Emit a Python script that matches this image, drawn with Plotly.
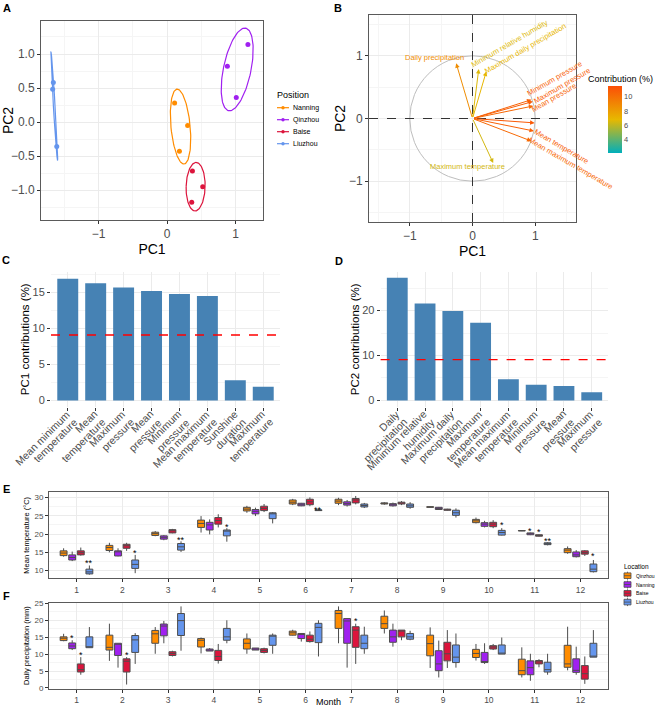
import numpy as np
import plotly.graph_objects as go
from plotly.colors import sample_colorscale

W, H = 655, 709
FONT = "Liberation Sans, Arial, sans-serif"

########## DATA ##########
# A - PCA scores of the three sampling years per site
a_site = ['Nanning'] * 3 + ['Qinzhou'] * 3 + ['Baise'] * 3 + ['Liuzhou'] * 3
a_pc1 = [0.11, 0.30, 0.18, 0.88, 1.18, 1.01, 0.37, 0.52, 0.36, -1.66, -1.67, -1.61]
a_pc2 = [0.28, -0.05, -0.43, 0.82, 1.14, 0.36, -0.72, -0.95, -1.18, 0.58, 0.48, -0.36]
a_sites = ['Nanning', 'Qinzhou', 'Baise', 'Liuzhou']

# B - variable loadings + contribution (%)
b_vars = ['Daily precipitation', 'Minimum relative humidity', 'Maximum daily precipitation',
          'Minimum pressure', 'Maximum pressure', 'Mean pressure',
          'Mean minimum temperature', 'Mean temperature', 'Mean maximum temperature',
          'Maximum temperature']
b_pc1 = [-0.26, 0.10, 0.22, 0.94, 0.96, 0.97, 0.99, 0.98, 0.94, 0.33]
b_pc2 = [0.88, 0.79, 0.75, 0.30, 0.27, 0.20, -0.07, -0.20, -0.36, -0.71]
b_contrib = [8.7, 6.6, 6.9, 10.6, 10.8, 10.4, 11.0, 10.7, 10.3, 6.4]

# C / D - contributions to PC1 and PC2 (label = two lines)
c_labels = [('Mean minimum', 'temperature'), ('Mean', 'temperature'), ('Maximum', 'pressure'),
            ('Mean', 'pressure'), ('Minimum', 'pressure'), ('Mean maximum', 'temperature'),
            ('Sunshine', 'duration'), ('Maximum', 'temperature')]
c_values = [16.9, 16.3, 15.7, 15.2, 14.8, 14.5, 2.8, 1.9]
d_labels = [('Daily', 'precipitation'), ('Minimum relative', 'humidity'), ('Maximum daily', 'precipitation'),
            ('Maximum', 'temperature'), ('Mean maximum', 'temperature'), ('Minimum', 'pressure'),
            ('Mean', 'pressure'), ('Maximum', 'pressure')]
d_values = [27.3, 21.6, 19.9, 17.3, 4.7, 3.5, 3.2, 1.8]
n_vars = 11  # expected average contribution = 100 / n_vars

# E / F - monthly box stats per location: (lower, q1, median, q3, upper)
months = list(range(1, 13))
e_sites = ['Qinzhou', 'Nanning', 'Baise', 'Liuzhou']

temp_qinzhou = [(13.8, 14.1, 14.8, 15.4, 16.1), (15.0, 15.5, 16.3, 16.9, 17.6), (19.4, 19.6, 20.1, 20.5, 20.8),
                (20.4, 21.8, 22.9, 23.8, 24.9), (25.8, 26.3, 26.8, 27.3, 27.7), (27.9, 28.2, 28.7, 29.3, 29.6),
                (27.9, 28.4, 29.0, 29.5, 29.9), (28.0, 28.2, 28.4, 28.5, 28.7), (27.3, 27.3, 27.4, 27.45, 27.5),
                (22.9, 23.1, 23.6, 24.0, 24.5), (20.8, 20.85, 20.9, 20.95, 21.0), (14.6, 14.9, 15.6, 16.0, 16.6)]
temp_nanning = [(12.6, 12.9, 13.6, 14.3, 15.2), (13.9, 14.0, 15.2, 15.4, 16.1), (18.3, 18.6, 19.1, 19.5, 19.7),
                (19.9, 21.1, 22.5, 23.2, 24.0), (24.9, 25.5, 26.2, 26.7, 27.2), (27.6, 27.7, 28.0, 28.4, 28.5),
                (27.5, 27.9, 28.3, 28.8, 29.3), (27.5, 27.7, 28.0, 28.3, 28.6), (26.6, 26.7, 27.0, 27.3, 27.4),
                (21.8, 22.1, 22.7, 23.1, 23.6), (19.7, 19.8, 20.1, 20.3, 20.4), (13.6, 13.8, 14.3, 15.1, 15.6)]
temp_baise = [(14.1, 14.3, 14.9, 15.4, 16.3), (15.4, 16.1, 16.8, 17.2, 17.6), (20.2, 20.3, 20.9, 21.2, 21.4),
              (21.8, 22.7, 23.7, 24.5, 25.4), (26.0, 26.4, 27.0, 27.6, 28.2), (27.6, 28.0, 28.8, 29.5, 30.0),
              (28.1, 28.5, 29.3, 29.7, 30.4), (27.9, 28.2, 28.5, 28.7, 29.0), (26.4, 26.5, 26.6, 26.8, 26.9),
              (21.6, 22.0, 22.7, 23.2, 23.8), (19.3, 19.4, 19.6, 19.8, 19.9), (14.0, 14.5, 14.9, 15.4, 15.6)]
temp_liuzhou = [(8.9, 9.1, 9.65, 10.4, 11.4), (9.3, 10.6, 11.7, 12.9, 14.3), (15.1, 15.6, 16.5, 17.4, 18.0),
                (17.9, 19.5, 20.8, 21.1, 21.6), (22.9, 24.2, 25.6, 25.8, 26.0), (26.3, 26.4, 26.5, 26.6, 26.7),
                (27.1, 27.4, 27.8, 28.2, 28.5), (26.9, 27.3, 27.7, 28.2, 28.7), (24.5, 25.1, 25.8, 26.5, 27.0),
                (19.6, 19.7, 20.4, 21.0, 21.6), (16.9, 17.1, 17.4, 17.6, 17.8), (9.5, 9.7, 10.4, 11.8, 12.9)]

prec_qinzhou = [(13.8, 14.0, 14.7, 15.1, 16.0), (8.0, 11.2, 12.0, 15.6, 19.0), (10.1, 13.2, 16.0, 17.0, 18.0),
                (10.2, 12.1, 14.1, 14.6, 14.9), (10.1, 11.5, 13.2, 14.5, 16.1), (15.5, 15.6, 16.3, 16.8, 17.2),
                (13.2, 17.6, 22.0, 22.9, 24.1), (16.1, 17.6, 19.0, 21.2, 22.9), (5.9, 9.5, 13.1, 15.6, 17.9),
                (8.1, 9.0, 10.2, 11.4, 13.0), (3.1, 3.9, 5.1, 8.5, 12.0), (5.2, 6.1, 7.1, 12.6, 18.1)]
prec_nanning = [(11.2, 11.6, 12.4, 13.3, 14.1), (6.0, 9.6, 13.1, 13.2, 13.2), (13.2, 15.4, 18.3, 18.9, 19.8),
                (10.9, 10.9, 11.2, 11.5, 11.8), (11.2, 11.2, 11.5, 11.8, 11.8), (13.7, 14.6, 16.0, 16.1, 16.1),
                (6.0, 13.2, 19.8, 20.5, 20.5), (12.2, 13.5, 15.1, 17.1, 19.0), (3.1, 5.1, 7.1, 11.0, 14.0),
                (7.1, 7.5, 7.8, 10.5, 13.2), (2.1, 3.9, 6.0, 8.0, 10.1), (3.9, 4.6, 5.2, 8.6, 12.2)]
prec_baise = [(3.9, 4.7, 5.4, 7.1, 9.1), (1.0, 4.7, 7.9, 8.6, 9.1), (9.3, 9.6, 10.2, 10.7, 11.0),
              (7.2, 8.1, 9.3, 11.1, 13.0), (10.2, 10.5, 11.1, 11.6, 11.9), (13.4, 13.7, 14.4, 15.6, 16.7),
              (7.1, 12.0, 17.1, 18.1, 19.0), (14.1, 15.1, 17.1, 17.1, 17.1), (5.9, 8.0, 10.1, 13.5, 17.1),
              (11.2, 11.5, 12.1, 12.5, 13.0), (6.1, 7.1, 7.7, 8.1, 8.5), (1.2, 2.6, 4.2, 6.6, 9.3)]
prec_liuzhou = [(11.9, 11.9, 11.9, 15.1, 18.0), (7.1, 10.5, 14.2, 15.5, 16.2), (11.0, 15.5, 19.9, 22.0, 24.1),
                (13.2, 14.1, 15.1, 17.6, 20.0), (10.1, 12.6, 15.4, 15.6, 16.1), (9.3, 13.4, 17.9, 19.1, 20.0),
                (10.1, 11.6, 13.2, 15.6, 18.1), (14.1, 14.4, 15.1, 16.1, 16.9), (6.0, 7.5, 9.1, 12.7, 16.1),
                (10.0, 10.0, 10.1, 12.7, 14.9), (3.9, 4.7, 5.4, 7.6, 10.1), (9.1, 9.1, 9.3, 13.2, 17.1)]

# significance marks: (month, site, label, y)
temp_sig = [(1, 'Liuzhou', '**', 12.5), (2, 'Liuzhou', '*', 15.4), (3, 'Liuzhou', '**', 19.0),
            (4, 'Liuzhou', '*', 22.6), (6, 'Liuzhou', '**', 27.2), (10, 'Liuzhou', '*', 23.1),
            (11, 'Nanning', '*', 21.4), (11, 'Baise', '*', 21.1), (11, 'Liuzhou', '**', 18.7),
            (12, 'Liuzhou', '*', 14.5)]
prec_sig = [(1, 'Nanning', '*', 15.3), (1, 'Baise', '*', 10.4), (2, 'Baise', '*', 10.3), (7, 'Baise', '*', 20.3)]

########## STYLE ##########
site_colors = {'Nanning': '#A020F0', 'Qinzhou': '#FF8C00', 'Baise': '#DC143C', 'Liuzhou': '#6495ED'}
a_colors = {'Nanning': '#FF8C00', 'Qinzhou': '#A020F0', 'Baise': '#DC143C', 'Liuzhou': '#6495ED'}
contrib_scale = [[0, '#00AFBB'], [0.5, '#E7B800'], [1, '#FC4E07']]
cmin, cmax = 2.1, 11.5
box_offsets = {'Qinzhou': -0.28125, 'Nanning': -0.09375, 'Baise': 0.09375, 'Liuzhou': 0.28125}
GRID = '#EBEBEB'
MINOR = '#F5F5F5'
TICKC = '#4D4D4D'
BOXLINE = '#4D4D4D'

# label placement for the loading arrows (pc1, pc2, angle)
b_label_pos = [(-0.61, 0.98, 0), (0.59, 1.20, -30), (0.84, 1.12, -30), (1.31, 0.63, -30),
               (1.43, 0.53, -30), (1.30, 0.33, -30), (1.67, -0.39, 30), (1.42, -0.44, 30),
               (1.57, -0.71, 30), (-0.08, -0.77, 0)]


def xdom(a, b):
    return [a / W, b / W]


def ydom(top, bottom):
    return [1 - bottom / H, 1 - top / H]


def px(x):
    return x / W


def py(y):
    return 1 - y / H


def ptext(x, y, text, size, xanchor='center', color='black', bold=False):
    # paper-positioned text, anchors fixed (plotly 'auto' snaps to the nearest side)
    return dict(x=px(x), y=py(y), xref='paper', yref='paper', text='<b>%s</b>' % text if bold else text,
                showarrow=False, xanchor=xanchor, yanchor='middle',
                font=dict(size=size, color=color, family=FONT))


def ellipse(xs, ys, k=1.55, n=120):
    pts = np.column_stack([xs, ys])
    mu = pts.mean(axis=0)
    cov = np.cov(pts, rowvar=False)
    vals, vecs = np.linalg.eigh(cov)
    vals = np.clip(vals, 0, None)
    t = np.linspace(0, 2 * np.pi, n)
    circ = np.vstack([np.cos(t), np.sin(t)])
    e = vecs @ np.diag(np.sqrt(vals)) @ circ * k
    return mu[0] + e[0], mu[1] + e[1]


fig = go.Figure()
shapes = []
annotations = []

########## A ##########
for s in a_sites:
    xs = [x for x, g in zip(a_pc1, a_site) if g == s]
    ys = [y for y, g in zip(a_pc2, a_site) if g == s]
    ex, ey = ellipse(xs, ys)
    fig.add_trace(go.Scatter(x=ex, y=ey, mode='lines', line=dict(color=a_colors[s], width=1.2),
                             showlegend=False, hoverinfo='skip', xaxis='x', yaxis='y'))
    fig.add_trace(go.Scatter(x=xs, y=ys, mode='markers', marker=dict(color=a_colors[s], size=5),
                             showlegend=False, xaxis='x', yaxis='y'))

# legend "Position" drawn by hand (ggplot key spacing is tighter than plotly's legend)
annotations.append(ptext(275, 94.5, 'Position', 9, xanchor='left'))
for i, s in enumerate(a_sites):
    yy = 107.7 + 12 * i
    shapes.append(dict(type='line', xref='paper', yref='paper', x0=px(277), x1=px(289), y0=py(yy), y1=py(yy),
                       line=dict(color=a_colors[s], width=1.2)))
    shapes.append(dict(type='circle', xref='paper', yref='paper', x0=px(281.3), x1=px(284.7),
                       y0=py(yy + 1.7), y1=py(yy - 1.7), fillcolor=a_colors[s], line=dict(width=0)))
    annotations.append(ptext(291, yy, s, 7, xanchor='left'))

########## B ##########
arrow_cols = sample_colorscale(contrib_scale, [(c - cmin) / (cmax - cmin) for c in b_contrib])
fig.add_trace(go.Scatter(x=b_pc1, y=b_pc2, mode='markers',
                         marker=dict(size=1, opacity=0, color=b_contrib, coloraxis='coloraxis'),
                         showlegend=False, hoverinfo='skip', xaxis='x2', yaxis='y2'))

shapes += [
    dict(type='circle', xref='x2', yref='y2', x0=-1, x1=1, y0=-1, y1=1, line=dict(color='#BEBEBE', width=1)),
    dict(type='line', xref='x2', yref='y2 domain', x0=0, x1=0, y0=0, y1=1,
         line=dict(color='#333333', width=1, dash='dash')),
    dict(type='line', xref='x2 domain', yref='y2', x0=0, x1=1, y0=0, y1=0,
         line=dict(color='#333333', width=1, dash='dash')),
    dict(type='line', xref='x3 domain', yref='y3', x0=0, x1=1, y0=100 / n_vars, y1=100 / n_vars,
         line=dict(color='#FF0000', width=1.3, dash='dash')),
    dict(type='line', xref='x4 domain', yref='y4', x0=0, x1=1, y0=100 / n_vars, y1=100 / n_vars,
         line=dict(color='#FF0000', width=1.3, dash='dash')),
]

for v, p1, p2, col, (lx, ly, ang) in zip(b_vars, b_pc1, b_pc2, arrow_cols, b_label_pos):
    annotations.append(dict(x=p1, y=p2, ax=0, ay=0, xref='x2', yref='y2', axref='x2', ayref='y2',
                            text='', showarrow=True, arrowhead=2, arrowsize=0.9, arrowwidth=1,
                            arrowcolor=col, standoff=0))
    annotations.append(dict(x=lx, y=ly, xref='x2', yref='y2', text=v, showarrow=False, textangle=ang,
                            xanchor='center', yanchor='middle',
                            font=dict(size=7.5, color=col, family=FONT)))

annotations.append(ptext(620, 79, 'Contribution (%)', 9))

########## C / D ##########
fig.add_trace(go.Bar(x=list(range(len(c_values))), y=c_values, marker=dict(color='#4682B4', line=dict(width=0)),
                     showlegend=False, xaxis='x3', yaxis='y3'))
fig.add_trace(go.Bar(x=list(range(len(d_values))), y=d_values, marker=dict(color='#4682B4', line=dict(width=0)),
                     showlegend=False, xaxis='x4', yaxis='y4'))

# rotated two-line category labels, each line ending at the tick like ggplot hjust = 1
for labels, xr in [(c_labels, 'x3'), (d_labels, 'x4')]:
    for i, lines in enumerate(labels):
        for j, line in enumerate(lines):
            annotations.append(dict(x=i, y=py(410), xref=xr, yref='paper', text=line, showarrow=False,
                                    textangle=-45, xanchor='right', yanchor='top',
                                    xshift=7 + 8 * j, yshift=5 - 8 * j,
                                    font=dict(size=10.5, color=TICKC, family=FONT)))

########## E / F ##########
temp_stats = {'Qinzhou': temp_qinzhou, 'Nanning': temp_nanning, 'Baise': temp_baise, 'Liuzhou': temp_liuzhou}
prec_stats = {'Qinzhou': prec_qinzhou, 'Nanning': prec_nanning, 'Baise': prec_baise, 'Liuzhou': prec_liuzhou}

for stats, xa, ya in [(temp_stats, 'x5', 'y5'), (prec_stats, 'x6', 'y6')]:
    for s in e_sites:
        st = stats[s]
        fig.add_trace(go.Box(
            x=[m + box_offsets[s] for m in months],
            lowerfence=[r[0] for r in st], q1=[r[1] for r in st], median=[r[2] for r in st],
            q3=[r[3] for r in st], upperfence=[r[4] for r in st],
            width=0.15, whiskerwidth=0, fillcolor=site_colors[s], boxpoints=False,
            line=dict(color=BOXLINE, width=1), name=s, showlegend=False, xaxis=xa, yaxis=ya))

for sig, xr, yr in [(temp_sig, 'x5', 'y5'), (prec_sig, 'x6', 'y6')]:
    for m, s, lab, yv in sig:
        annotations.append(dict(x=m + box_offsets[s], y=yv, xref=xr, yref=yr, text=lab, showarrow=False,
                                xanchor='center', yanchor='middle', yshift=-2,
                                font=dict(size=9, color='black', family=FONT)))

# legend "Location" drawn by hand
annotations.append(ptext(622, 566, 'Location', 6.5, xanchor='left'))
for i, s in enumerate(e_sites):
    yy = 575.7 + 8.8 * i
    shapes.append(dict(type='line', xref='paper', yref='paper', x0=px(627.5), x1=px(627.5),
                       y0=py(yy + 4), y1=py(yy - 4), line=dict(color=BOXLINE, width=0.8)))
    shapes.append(dict(type='rect', xref='paper', yref='paper', x0=px(624), x1=px(631), y0=py(yy + 2.8),
                       y1=py(yy - 2.8), fillcolor=site_colors[s], line=dict(color=BOXLINE, width=0.8)))
    shapes.append(dict(type='line', xref='paper', yref='paper', x0=px(624), x1=px(631), y0=py(yy), y1=py(yy),
                       line=dict(color=BOXLINE, width=0.8)))
    annotations.append(ptext(634, yy, s, 5, xanchor='left'))

# panel letters and shared x title
for lab, x, y in [('A', 7, 8.5), ('B', 338, 8.5), ('C', 6, 260), ('D', 338.5, 260.5), ('E', 6, 489),
                  ('F', 6.5, 596)]:
    annotations.append(ptext(x, y, lab, 11, bold=True))
annotations.append(ptext(328.5, 702, 'Month', 9))


########## AXES ##########
def frame(**kw):
    d = dict(showgrid=True, gridcolor=GRID, gridwidth=1, zeroline=False, showline=True, mirror=True,
             linecolor='#5A5A5A', linewidth=1, ticks='outside', ticklen=3, tickcolor='#333333',
             automargin=False, tickfont=dict(size=12, color=TICKC, family=FONT))
    d.update(kw)
    return d


def bare(**kw):
    d = dict(showgrid=True, gridcolor=GRID, gridwidth=1, zeroline=False, showline=False,
             ticks='outside', ticklen=3, tickcolor='#333333', automargin=False,
             tickfont=dict(size=11, color=TICKC, family=FONT))
    d.update(kw)
    return d


title14 = dict(size=14, color='black', family=FONT)
fig.update_layout(
    xaxis=frame(domain=xdom(41, 263), anchor='y', range=[-1.84, 1.40], dtick=1,
                minor=dict(dtick=0.5, showgrid=True, gridcolor=MINOR),
                title=dict(text='PC1', font=title14, standoff=2)),
    yaxis=frame(domain=ydom(21, 220), anchor='x', range=[-1.44, 1.485], dtick=0.5, tickformat='.1f',
                minor=dict(dtick=0.25, showgrid=True, gridcolor=MINOR),
                title=dict(text='PC2', font=title14, standoff=0)),
    xaxis2=frame(domain=xdom(369, 576), anchor='y2', range=[-1.65, 1.65], dtick=1,
                 minor=dict(dtick=0.5, showgrid=True, gridcolor=MINOR),
                 title=dict(text='PC1', font=title14, standoff=2)),
    yaxis2=frame(domain=ydom(15, 222), anchor='x2', range=[-1.65, 1.65], dtick=1,
                 minor=dict(dtick=0.5, showgrid=True, gridcolor=MINOR),
                 title=dict(text='PC2', font=title14, standoff=0)),
    xaxis3=bare(domain=xdom(51, 280), anchor='y3', range=[-0.6, 7.6], tickvals=list(range(8)),
                showticklabels=False),
    yaxis3=bare(domain=ydom(272, 406.5), anchor='x3', range=[-0.85, 17.85], dtick=5,
                minor=dict(dtick=2.5, showgrid=True, gridcolor=MINOR),
                title=dict(text='PC1 contributions (%)', font=dict(size=11.5, color='black', family=FONT),
                           standoff=0)),
    xaxis4=bare(domain=xdom(380.6, 608.4), anchor='y4', range=[-0.6, 7.6], tickvals=list(range(8)),
                showticklabels=False),
    yaxis4=bare(domain=ydom(272, 406.5), anchor='x4', range=[-1.36, 28.6], dtick=10,
                minor=dict(dtick=5, showgrid=True, gridcolor=MINOR),
                title=dict(text='PC2 contributions (%)', font=dict(size=11.5, color='black', family=FONT),
                           standoff=0)),
    xaxis5=frame(domain=xdom(49, 608), anchor='y5', range=[0.4, 12.6], tickvals=months,
                 tickfont=dict(size=8.5, color=TICKC, family=FONT)),
    yaxis5=frame(domain=ydom(492.3, 578.3), anchor='x5', range=[7.9, 31.4], dtick=5,
                 minor=dict(dtick=2.5, showgrid=True, gridcolor=MINOR),
                 tickfont=dict(size=8, color=TICKC, family=FONT),
                 title=dict(text='Mean temperature (°C)', font=dict(size=7.5, color='black', family=FONT),
                            standoff=3)),
    xaxis6=frame(domain=xdom(49, 608), anchor='y6', range=[0.4, 12.6], tickvals=months,
                 tickfont=dict(size=8.5, color=TICKC, family=FONT)),
    yaxis6=frame(domain=ydom(602.7, 688.6), anchor='x6', range=[-0.2, 25.2], dtick=5,
                 minor=dict(dtick=2.5, showgrid=True, gridcolor=MINOR),
                 tickfont=dict(size=8, color=TICKC, family=FONT),
                 title=dict(text='Daily precipitation (mm)', font=dict(size=7.5, color='black', family=FONT),
                            standoff=3)),
    coloraxis=dict(colorscale=contrib_scale, cmin=cmin, cmax=cmax,
                   colorbar=dict(x=px(608), xanchor='left', y=py(119.5), yanchor='middle',
                                 len=67, lenmode='pixels', thickness=14, thicknessmode='pixels',
                                 xpad=0, ypad=0, tickvals=[4, 6, 8, 10], ticks='', outlinewidth=0,
                                 tickfont=dict(size=7.5, color=TICKC, family=FONT))),
    showlegend=False,
    boxmode='overlay',
    bargap=0.25,
    shapes=shapes,
    annotations=annotations,
    width=W, height=H, autosize=False,
    margin=dict(l=0, r=0, t=0, b=0, autoexpand=False),
    paper_bgcolor='white', plot_bgcolor='white',
    font=dict(family=FONT),
)

# the page body has a default 8px margin, which would push the figure off the window
fig.write_html("out.html", config={'displayModeBar': False},
               post_script="document.body.style.margin = '0px';")
